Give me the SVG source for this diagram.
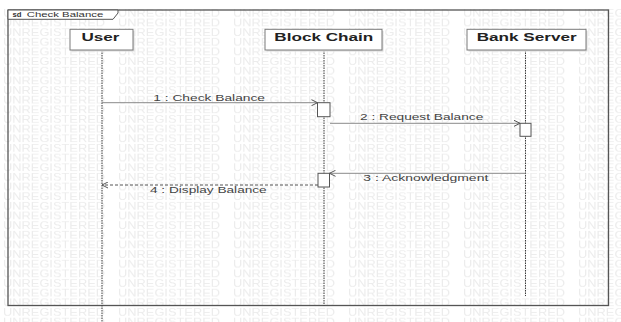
<svg xmlns="http://www.w3.org/2000/svg" width="621" height="322" viewBox="0 0 621 322">
  <style>
    .wm { font-family: "Liberation Sans", Arial, sans-serif; font-size: 10px; fill: #ececec; }
    .frame { fill: none; stroke: #555555; stroke-width: 1.3; }
    .tab { fill: #ffffff; stroke: #555555; stroke-width: 1; }
    .tabtxt { font-family: "Liberation Sans", Arial, sans-serif; font-size: 7.5px; fill: #333333; }
    .head { fill: #ffffff; stroke: #7a7a7a; stroke-width: 1; }
    .shadow { fill: #dcdcdc; }
    .headtxt { font-family: "Liberation Sans", Arial, sans-serif; font-size: 11.5px; font-weight: bold; fill: #222222; text-anchor: middle; }
    .life { stroke: #3a3a3a; stroke-width: 1; stroke-dasharray: 1.5 1; fill: none; }
    .act { fill: #ffffff; stroke: #555555; stroke-width: 1; }
    .msg { stroke: #8a8a8a; stroke-width: 1; fill: none; }
    .ret { stroke: #555555; stroke-width: 1; stroke-dasharray: 3 2; fill: none; }
    .lbl { font-family: "Liberation Sans", Arial, sans-serif; font-size: 9px; fill: #444444; }
  </style>
  <defs>
    <pattern id="wm" x="3" y="7" width="115" height="9.65" patternUnits="userSpaceOnUse">
      <text class="wm" x="0" y="9.6" textLength="102" lengthAdjust="spacingAndGlyphs">UNREGISTERED</text>
    </pattern>
    <marker id="open" viewBox="0 0 7 7" refX="6.5" refY="3.5" markerWidth="7" markerHeight="7" markerUnits="userSpaceOnUse" orient="auto">
      <path d="M0.5,0.5 L6.5,3.5 L0.5,6.5" fill="none" stroke="#555555" stroke-width="1"/>
    </marker>
  </defs>

  <!-- background and evaluation watermark -->
  <rect x="0" y="0" width="621" height="322" fill="#ffffff"/>
  <rect x="0" y="9" width="621" height="313" fill="url(#wm)"/>

  <!-- sequence diagram frame -->
  <g id="frame">
    <rect class="frame" x="8" y="10" width="600.5" height="295.5"/>
    <path class="tab" d="M8,10 L118,10 L118,13 L113,19.3 L8,19.3 Z"/>
    <text class="tabtxt" x="12.5" y="17.3" font-weight="bold" textLength="9" lengthAdjust="spacingAndGlyphs">sd</text>
    <text class="tabtxt" x="26.7" y="17.3" textLength="76.6" lengthAdjust="spacingAndGlyphs">Check Balance</text>
  </g>

  <!-- lifelines -->
  <g id="lifelines">
    <line class="life" x1="102" y1="50" x2="102" y2="322"/>
    <line class="life" x1="324" y1="50" x2="324" y2="305.5"/>
    <line class="life" x1="525.5" y1="50" x2="525.5" y2="296"/>
  </g>

  <!-- messages -->
  <g id="connectors">
    <line class="msg" x1="102" y1="102.7" x2="317.5" y2="102.7" marker-end="url(#open)"/>
    <line class="msg" x1="330" y1="123.3" x2="520" y2="123.3" marker-end="url(#open)"/>
    <line class="msg" x1="525.5" y1="173.3" x2="329.5" y2="173.3" marker-end="url(#open)"/>
    <line class="ret" x1="318" y1="185" x2="102" y2="185" marker-end="url(#open)"/>
    <text class="lbl" x="153.3" y="101" textLength="111.7" lengthAdjust="spacingAndGlyphs">1 : Check Balance</text>
    <text class="lbl" x="360" y="119.5" textLength="123.3" lengthAdjust="spacingAndGlyphs">2 : Request Balance</text>
    <text class="lbl" x="363.3" y="180.7" textLength="125" lengthAdjust="spacingAndGlyphs">3 : Acknowledgment</text>
    <text class="lbl" x="150" y="192.5" textLength="116.7" lengthAdjust="spacingAndGlyphs">4 : Display Balance</text>
  </g>

  <!-- activations -->
  <g id="activations">
    <rect class="act" x="317.5" y="102.7" width="12.5" height="14"/>
    <rect class="act" x="520" y="123.3" width="11" height="13"/>
    <rect class="act" x="318" y="173.3" width="11.5" height="13.7"/>
  </g>

  <g id="user">
    <rect class="shadow" x="71.5" y="30.8" width="63" height="20.7"/>
    <rect class="head" x="70" y="29.3" width="63" height="20.7"/>
    <text class="headtxt" x="100.5" y="41" textLength="38" lengthAdjust="spacingAndGlyphs">User</text>
  </g>

  <g id="block-chain">
    <rect class="shadow" x="266.5" y="30.8" width="117" height="20.7"/>
    <rect class="head" x="265" y="29.3" width="117" height="20.7"/>
    <text class="headtxt" x="323.8" y="41" textLength="99" lengthAdjust="spacingAndGlyphs">Block Chain</text>
  </g>

  <g id="bank-server">
    <rect class="shadow" x="468.5" y="30.8" width="119" height="20.7"/>
    <rect class="head" x="467" y="29.3" width="119" height="20.7"/>
    <text class="headtxt" x="526.7" y="41" textLength="100" lengthAdjust="spacingAndGlyphs">Bank Server</text>
  </g>
</svg>
